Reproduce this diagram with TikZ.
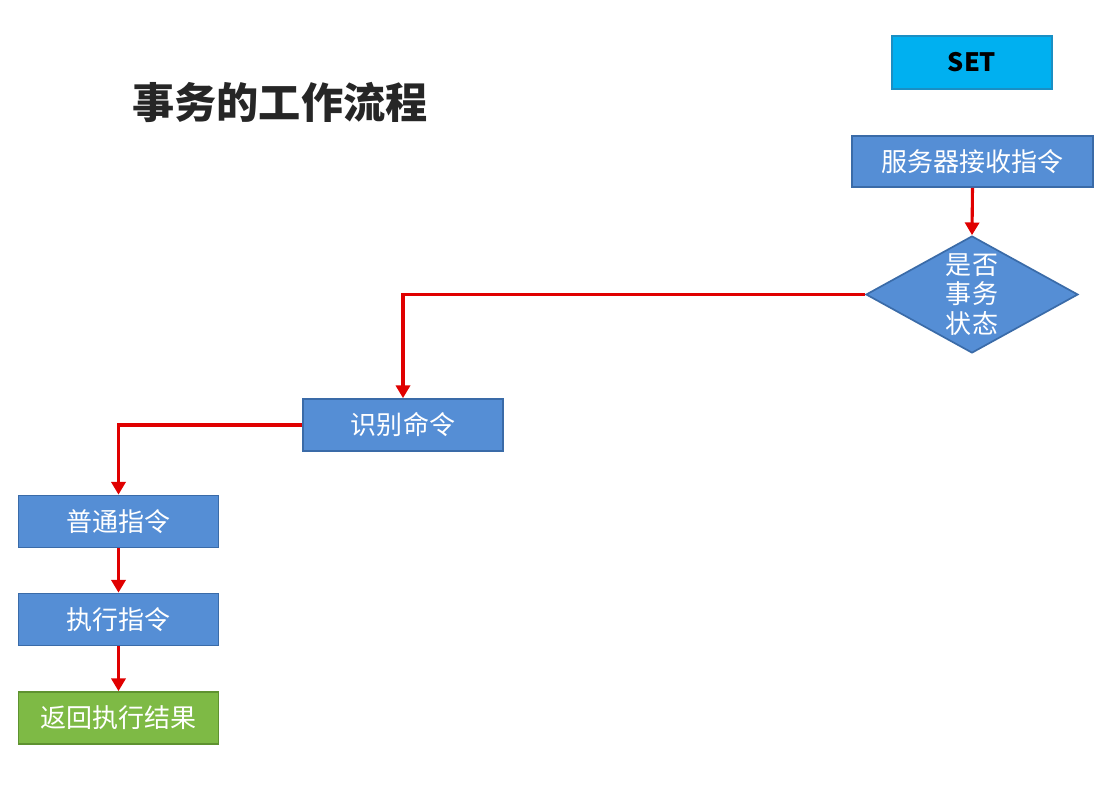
\documentclass[tikz,border=0pt]{standalone}
\usepackage{fontspec}
\setmainfont{Noto Sans CJK SC}
\usetikzlibrary{shapes.geometric,arrows.meta}
\definecolor{boxblue}{HTML}{558ED5}
\definecolor{boxline}{HTML}{3A6BA8}
\definecolor{setfill}{HTML}{00B0F0}
\definecolor{setline}{HTML}{1A8FC4}
\definecolor{gfill}{HTML}{7EBA45}
\definecolor{gline}{HTML}{5E9230}
\definecolor{flowred}{HTML}{E00000}
\definecolor{titlegray}{HTML}{262626}
\tikzset{
  bluebox/.style={draw=boxline, line width=1.2pt, fill=boxblue, text=white,
    minimum width=5cm, minimum height=1.3cm, inner sep=0pt, font=\fontsize{18.5}{21}\selectfont},
  greenbox/.style={bluebox, draw=gline, fill=gfill},
  setbox/.style={draw=setline, line width=1.2pt, fill=setfill, text=black,
    minimum width=4cm, minimum height=1.325cm, inner sep=0pt, font=\bfseries\fontsize{18}{21}\selectfont},
  decbox/.style={diamond, draw=boxline, line width=1.2pt, fill=boxblue,
    minimum width=5.3cm, minimum height=2.925cm, inner sep=0pt},
  flow/.style={draw=flowred, line width=2.2pt, -{Triangle[length=9pt,width=10pt]}}
}
\begin{document}
\begin{tikzpicture}[x=0.025cm, y=-0.025cm]
\useasboundingbox[fill=white] (0,0) rectangle (1114,794);
\node[font=\bfseries\fontsize{30}{34}\selectfont, text=titlegray] (title) at (280,102) {事务的工作流程};
\node[setbox] (set) at (972,62.5) {SET};
\node[bluebox, minimum width=6.025cm, minimum height=1.275cm] (recv) at (972.5,161.5) {服务器接收指令};
\node[decbox] (dec) at (972,294.5) {};
\node[text=white, align=center, font=\fontsize{18.5}{21}\selectfont, inner sep=0pt] (dectext) at (dec.center) {是否\\事务\\状态};
\node[bluebox] (ident) at (403,425) {识别命令};
\node[bluebox] (normal) at (118.5,521.5) {普通指令};
\node[bluebox] (exec) at (118.5,619.5) {执行指令};
\node[greenbox] (ret) at (118.5,718) {返回执行结果};
\draw[flow] (recv.south) -- (dec.north);
\draw[flow] (dec.west) -| (ident.north);
\draw[flow] (ident.west) -| (normal.north);
\draw[flow] (normal.south) -- (exec.north);
\draw[flow] (exec.south) -- (ret.north);
\end{tikzpicture}
\end{document}
